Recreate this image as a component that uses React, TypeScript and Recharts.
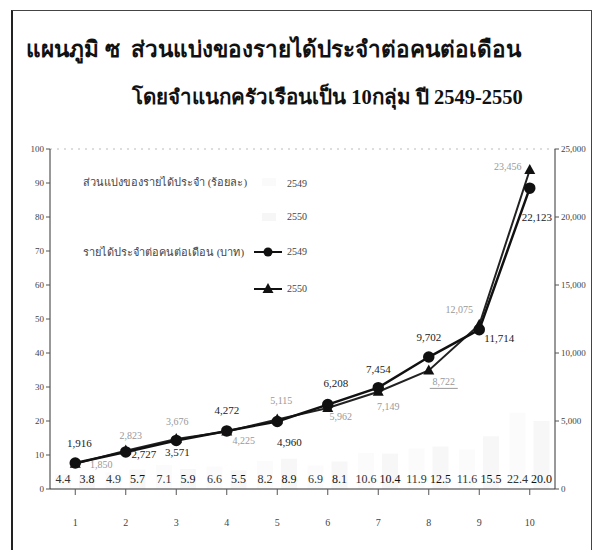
import React from 'react';
import { ComposedChart, Bar, Line, XAxis, YAxis, LabelList, ReferenceLine } from 'recharts';

// กลุ่มครัวเรือน (10 กลุ่ม)
const groups = ['1', '2', '3', '4', '5', '6', '7', '8', '9', '10'];

// ส่วนแบ่งของรายได้ประจำ (ร้อยละ)
const share2549 = [4.4, 4.9, 7.1, 6.6, 8.2, 6.9, 10.6, 11.9, 11.6, 22.4];
const share2550 = [3.8, 5.7, 5.9, 5.5, 8.9, 8.1, 10.4, 12.5, 15.5, 20.0];

// รายได้ประจำต่อคนต่อเดือน (บาท)
const income2549 = [1916, 2727, 3571, 4272, 4960, 6208, 7454, 9702, 11714, 22123];
const income2550 = [1850, 2823, 3676, 4225, 5115, 5962, 7149, 8722, 12075, 23456];

const leftTicks = [0, 10, 20, 30, 40, 50, 60, 70, 80, 90, 100];
const rightTicks = [0, 5000, 10000, 15000, 20000, 25000];

// where each value label sits relative to its marker [dx, dy]
const offsets49 = [[4, -18], [18, 4], [1, 13], [0, -19], [12, 22], [8, -20], [0, -17], [0, -19], [20, 10], [7, 30]];
const offsets50 = [[26, 2], [5, -14], [1, -16], [17, 10], [4, -18], [13, 10], [10, 16], [15, 12], [-20, -14], [-22, -2]];

const data = groups.map((g, i) => ({
  group: g,
  s49: share2549[i],
  s50: share2550[i],
  i49: income2549[i],
  i50: income2550[i],
}));

const serif = "'Liberation Serif', 'Times New Roman', serif";
const fmt = (v: number) => v.toLocaleString('en-US');

const lineLabel = (offs: number[][], color: string, size: number, underline = false) => (props: any) => {
  const { x, y, value, index } = props;
  const [dx, dy] = offs[index] || [0, -12];
  const tx = x + dx;
  const ty = y + dy;
  return (
    <g>
      <text x={tx} y={ty} textAnchor="middle" dominantBaseline="middle" fontSize={size} fontFamily={serif} fill={color}>
        {fmt(value)}
      </text>
      {underline && index === 7 ? (
        <line x1={tx - 14} x2={tx + 14} y1={ty + 6} y2={ty + 6} stroke={color} strokeWidth={1} />
      ) : null}
    </g>
  );
};

const barLabel = (color: string) => (props: any) => {
  const { x, y, width, height, value } = props;
  return (
    <text x={x + width / 2} y={y + height - 6} textAnchor="middle" fontSize={12} fontFamily={serif} fill={color}>
      {value.toFixed(1)}
    </text>
  );
};

const Triangle = (props: any) => {
  const { cx, cy } = props;
  if (cx == null || cy == null) return null;
  return <path d={`M${cx},${cy - 6} L${cx + 5.5},${cy + 4} L${cx - 5.5},${cy + 4} Z`} fill="#111" />;
};

const legendText: React.CSSProperties = {
  position: 'absolute',
  fontSize: 11,
  color: '#444',
  whiteSpace: 'nowrap',
  lineHeight: '14px',
};

function LegendBox() {
  return (
    <div style={{ position: 'absolute', left: 0, top: 0, width: 598, height: 550, pointerEvents: 'none' }}>
      <div style={{ ...legendText, left: 83, top: 175 }}>ส่วนแบ่งของรายได้ประจำ (ร้อยละ)</div>
      <div style={{ ...legendText, left: 287, top: 177, fontFamily: serif, fontSize: 10 }}>2549</div>
      <div style={{ position: 'absolute', left: 262, top: 178, width: 14, height: 8, background: '#fafafa' }} />
      <div style={{ ...legendText, left: 287, top: 210, fontFamily: serif, fontSize: 10 }}>2550</div>
      <div style={{ position: 'absolute', left: 262, top: 213, width: 14, height: 8, background: '#f6f6f6' }} />
      <div style={{ ...legendText, left: 83, top: 245 }}>รายได้ประจำต่อคนต่อเดือน (บาท)</div>
      <svg style={{ position: 'absolute', left: 252, top: 240 }} width={32} height={60}>
        <line x1={2} x2={30} y1={12} y2={12} stroke="#111" strokeWidth={2} />
        <circle cx={16} cy={12} r={4.5} fill="#111" />
        <line x1={2} x2={30} y1={49} y2={49} stroke="#111" strokeWidth={2} />
        <path d="M16,43 L21.5,53 L10.5,53 Z" fill="#111" />
      </svg>
      <div style={{ ...legendText, left: 287, top: 245, fontFamily: serif, fontSize: 10 }}>2549</div>
      <div style={{ ...legendText, left: 287, top: 282, fontFamily: serif, fontSize: 10 }}>2550</div>
    </div>
  );
}

export default function App() {
  const tickStyle = { fontSize: 9, fontFamily: serif, fill: '#444' };
  return (
    <div style={{ position: 'absolute', left: 0, top: 0, width: 598, height: 550, background: '#fff', overflow: 'hidden' }}>
      <div
        style={{
          position: 'absolute',
          left: 11,
          top: 10,
          width: 578,
          height: 560,
          borderLeft: '2px solid #222',
          borderTop: '1.5px solid #444',
          borderRight: '1.5px solid #444',
        }}
      />
      <div
        style={{
          position: 'absolute',
          left: 26,
          top: 31,
          fontFamily: serif,
          fontWeight: 'bold',
          fontSize: 22.5,
          whiteSpace: 'nowrap',
          color: '#111',
        }}
      >
        แผนภูมิ ซ&nbsp;&nbsp;ส่วนแบ่งของรายได้ประจำต่อคนต่อเดือน
      </div>
      <div
        style={{
          position: 'absolute',
          left: 132,
          top: 80,
          fontFamily: serif,
          fontWeight: 'bold',
          fontSize: 20.5,
          whiteSpace: 'nowrap',
          color: '#111',
        }}
      >
        โดยจำแนกครัวเรือนเป็น 10กลุ่ม ปี 2549-2550
      </div>
      <div style={{ position: 'absolute', left: 0, top: 0 }}>
        <ComposedChart
          width={598}
          height={550}
          data={data}
          margin={{ top: 149, right: 8, bottom: 16, left: 10 }}
          barSize={16}
          barGap={8}
        >
          <XAxis
            dataKey="group"
            height={45}
            tick={{ ...tickStyle, fontSize: 10 }}
            tickMargin={24}
            axisLine={{ stroke: '#333' }}
            tickLine={{ stroke: '#555' }}
          />
          <YAxis
            yAxisId="left"
            domain={[0, 100]}
            ticks={leftTicks}
            width={40}
            tick={tickStyle}
            tickSize={4}
            axisLine={{ stroke: '#333' }}
            tickLine={{ stroke: '#555' }}
          />
          <YAxis
            yAxisId="right"
            orientation="right"
            domain={[0, 25000]}
            ticks={rightTicks}
            width={35}
            tick={tickStyle}
            tickSize={4}
            tickFormatter={fmt}
            axisLine={{ stroke: '#333' }}
            tickLine={{ stroke: '#555' }}
          />
          <ReferenceLine yAxisId="left" y={100} stroke="#bbb" strokeDasharray="2 5" />
          <Bar yAxisId="left" dataKey="s49" fill="#fbfbfb" isAnimationActive={false}>
            <LabelList dataKey="s49" content={barLabel('#333')} />
          </Bar>
          <Bar yAxisId="left" dataKey="s50" fill="#f7f7f7" isAnimationActive={false}>
            <LabelList dataKey="s50" content={barLabel('#111')} />
          </Bar>
          <Line
            yAxisId="right"
            dataKey="i50"
            stroke="#222"
            strokeWidth={2}
            dot={<Triangle />}
            isAnimationActive={false}
          >
            <LabelList dataKey="i50" content={lineLabel(offsets50, '#999', 10, true)} />
          </Line>
          <Line
            yAxisId="right"
            dataKey="i49"
            stroke="#111"
            strokeWidth={2.5}
            dot={{ r: 4.5, fill: '#111', stroke: '#111' }}
            isAnimationActive={false}
          >
            <LabelList dataKey="i49" content={lineLabel(offsets49, '#222', 11)} />
          </Line>
        </ComposedChart>
      </div>
      <LegendBox />
    </div>
  );
}
